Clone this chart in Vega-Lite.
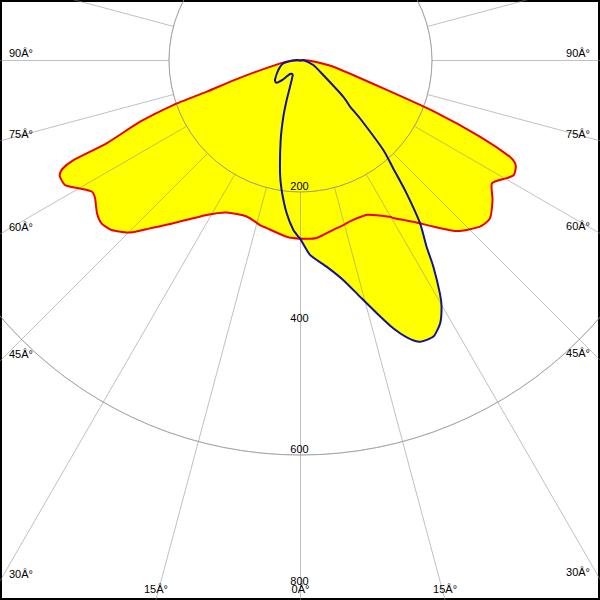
{
  "$schema": "https://vega.github.io/schema/vega-lite/v6.json",
  "width": 600,
  "height": 600,
  "padding": 0,
  "autosize": "none",
  "background": "white",
  "config": {
    "view": {"stroke": "#000000", "strokeWidth": 4},
    "text": {"font": "Liberation Sans", "fontSize": 11, "color": "#000000"}
  },
  "datasets": {
    "c0": [
      {"a": -90, "cd": 12}, {"a": -82, "cd": 31}, {"a": -74, "cd": 96}, {"a": -71.6, "cd": 150},
      {"a": -70.7, "cd": 205}, {"a": -69.1, "cd": 261}, {"a": -66.9, "cd": 320}, {"a": -66.3, "cd": 377},
      {"a": -65.5, "cd": 398}, {"a": -64.4, "cd": 406}, {"a": -62.1, "cd": 405}, {"a": -59.9, "cd": 388},
      {"a": -57.9, "cd": 375}, {"a": -56.2, "cd": 376}, {"a": -53.1, "cd": 387}, {"a": -50.7, "cd": 391},
      {"a": -48.1, "cd": 386}, {"a": -44.7, "cd": 368}, {"a": -41.9, "cd": 343}, {"a": -38.0, "cd": 314},
      {"a": -31.3, "cd": 275}, {"a": -25.9, "cd": 257}, {"a": -19.0, "cd": 251}, {"a": -13.7, "cd": 258},
      {"a": -11.4, "cd": 260}, {"a": -4.5, "cd": 269}, {"a": 0, "cd": 271}, {"a": 5.2, "cd": 271},
      {"a": 11.1, "cd": 262}, {"a": 14.4, "cd": 259}, {"a": 17.1, "cd": 256}, {"a": 23.5, "cd": 256},
      {"a": 29.8, "cd": 274}, {"a": 30.5, "cd": 278}, {"a": 34.9, "cd": 299}, {"a": 38.6, "cd": 323},
      {"a": 41.4, "cd": 344}, {"a": 43.1, "cd": 355}, {"a": 47.2, "cd": 372}, {"a": 50.2, "cd": 375},
      {"a": 54.0, "cd": 361}, {"a": 57.3, "cd": 346}, {"a": 60.3, "cd": 361}, {"a": 61.7, "cd": 368},
      {"a": 63.4, "cd": 366}, {"a": 64.4, "cd": 362}, {"a": 65.3, "cd": 351}, {"a": 67.0, "cd": 297},
      {"a": 69.1, "cd": 217}, {"a": 71.4, "cd": 133}, {"a": 79.3, "cd": 51}, {"a": 90, "cd": 12},
      {"a": 180, "cd": 0}
    ],
    "c90": [
      {"a": -97, "cd": 6}, {"a": -80.8, "cd": 26.5}, {"a": -66.8, "cd": 36.7}, {"a": -52.6, "cd": 48.8},
      {"a": -47, "cd": 49.5}, {"a": -42.5, "cd": 38.8}, {"a": -37.9, "cd": 26}, {"a": -28.3, "cd": 25},
      {"a": -21.8, "cd": 43}, {"a": -19.3, "cd": 63.6}, {"a": -17.0, "cd": 89}, {"a": -14.0, "cd": 124.6},
      {"a": -10.3, "cd": 174}, {"a": -8.3, "cd": 199}, {"a": -5.2, "cd": 233}, {"a": -2.4, "cd": 258},
      {"a": 0, "cd": 272}, {"a": 2.8, "cd": 296}, {"a": 7.2, "cd": 316}, {"a": 11.0, "cd": 340},
      {"a": 14.1, "cd": 370}, {"a": 16.8, "cd": 401.5}, {"a": 19.1, "cd": 431}, {"a": 21.0, "cd": 451},
      {"a": 23.0, "cd": 464.7}, {"a": 25.7, "cd": 466}, {"a": 28.0, "cd": 452.5}, {"a": 29.8, "cd": 431.6},
      {"a": 30.9, "cd": 412.8}, {"a": 32.8, "cd": 373}, {"a": 34.1, "cd": 342}, {"a": 36.3, "cd": 307},
      {"a": 38.6, "cd": 258.6}, {"a": 40.7, "cd": 216}, {"a": 42.8, "cd": 185}, {"a": 45.8, "cd": 126},
      {"a": 47, "cd": 103}, {"a": 49.8, "cd": 85}, {"a": 57.5, "cd": 41}, {"a": 70.6, "cd": 20.6},
      {"a": 100, "cd": 4.3}, {"a": 180, "cd": 0}
    ],
    "rings": [{"r": 200, "t": "200"}, {"r": 400, "t": "400"}, {"r": 600, "t": "600"}, {"r": 800, "t": "800"}],
    "spokes": [
      {"a": 0}, {"a": 15}, {"a": 30}, {"a": 45}, {"a": 60}, {"a": 75}, {"a": 90}, {"a": 105},
      {"a": 120}, {"a": 135}, {"a": 150}, {"a": 165}, {"a": 180}, {"a": 195}, {"a": 210}, {"a": 225},
      {"a": 240}, {"a": 255}, {"a": 270}, {"a": 285}, {"a": 300}, {"a": 315}, {"a": 330}, {"a": 345}
    ],
    "alab": [
      {"t": "90Â°", "a": -90, "side": "L"}, {"t": "75Â°", "a": -75, "side": "L"}, {"t": "60Â°", "a": -60, "side": "L"},
      {"t": "45Â°", "a": -45, "side": "L"}, {"t": "30Â°", "a": -30, "side": "L"},
      {"t": "90Â°", "a": 90, "side": "R"}, {"t": "75Â°", "a": 75, "side": "R"}, {"t": "60Â°", "a": 60, "side": "R"},
      {"t": "45Â°", "a": 45, "side": "R"}, {"t": "30Â°", "a": 30, "side": "R"},
      {"t": "15Â°", "a": -15, "side": "B"}, {"t": "0Â°", "a": 0, "side": "B"}, {"t": "15Â°", "a": 15, "side": "B"}
    ]
  },
  "layer": [
    {
      "data": {"name": "c0"},
      "transform": [
        {"calculate": "datum.cd*sin(datum.a*PI/180)", "as": "px"},
        {"calculate": "-datum.cd*cos(datum.a*PI/180)", "as": "py"}
      ],
      "mark": {"type": "line", "interpolate": "cardinal-closed", "tension": 0.4, "fill": "#ffff00", "stroke": "#ffff00", "strokeWidth": 0.5, "clip": true},
      "encoding": {
        "x": {"field": "px", "type": "quantitative", "scale": {"domain": [-457, 455.5], "zero": false, "nice": false}, "axis": null},
        "y": {"field": "py", "type": "quantitative", "scale": {"domain": [-820.5, 92], "zero": false, "nice": false}, "axis": null},
        "order": {"field": "a", "type": "quantitative"}
      }
    },
    {
      "data": {"name": "c90"},
      "transform": [
        {"calculate": "datum.cd*sin(datum.a*PI/180)", "as": "px"},
        {"calculate": "-datum.cd*cos(datum.a*PI/180)", "as": "py"}
      ],
      "mark": {"type": "line", "interpolate": "cardinal-closed", "tension": 0.4, "fill": "#ffff00", "stroke": "#ffff00", "strokeWidth": 0.5, "clip": true},
      "encoding": {
        "x": {"field": "px", "type": "quantitative", "scale": {"domain": [-457, 455.5], "zero": false, "nice": false}, "axis": null},
        "y": {"field": "py", "type": "quantitative", "scale": {"domain": [-820.5, 92], "zero": false, "nice": false}, "axis": null},
        "order": {"field": "a", "type": "quantitative"}
      }
    },
    {
      "data": {"name": "rings"},
      "mark": {"type": "arc", "theta": 0, "theta2": 6.2832, "filled": false, "stroke": "#8c8c8c", "strokeOpacity": 0.55, "strokeWidth": 1, "clip": true},
      "encoding": {
        "x": {"datum": 0, "type": "quantitative", "scale": {"domain": [-457, 455.5], "zero": false, "nice": false}, "axis": null},
        "y": {"datum": 0, "type": "quantitative", "scale": {"domain": [-820.5, 92], "zero": false, "nice": false}, "axis": null},
        "radius": {"field": "r", "type": "quantitative", "scale": {"type": "linear", "zero": true, "domain": [0, 912.5], "range": [0, 600]}}
      }
    },
    {
      "data": {"name": "spokes"},
      "transform": [
        {"calculate": "200*sin(datum.a*PI/180)", "as": "px"},
        {"calculate": "-200*cos(datum.a*PI/180)", "as": "py"},
        {"calculate": "1400*sin(datum.a*PI/180)", "as": "px2"},
        {"calculate": "-1400*cos(datum.a*PI/180)", "as": "py2"}
      ],
      "mark": {"type": "rule", "stroke": "#8c8c8c", "strokeOpacity": 0.55, "strokeWidth": 1, "clip": true},
      "encoding": {
        "x": {"field": "px", "type": "quantitative", "scale": {"domain": [-457, 455.5], "zero": false, "nice": false}, "axis": null},
        "y": {"field": "py", "type": "quantitative", "scale": {"domain": [-820.5, 92], "zero": false, "nice": false}, "axis": null},
        "x2": {"field": "px2"},
        "y2": {"field": "py2"}
      }
    },
    {
      "data": {"name": "c0"},
      "transform": [
        {"calculate": "datum.cd*sin(datum.a*PI/180)", "as": "px"},
        {"calculate": "-datum.cd*cos(datum.a*PI/180)", "as": "py"}
      ],
      "mark": {"type": "line", "interpolate": "cardinal-closed", "tension": 0.4, "stroke": "#ee0000", "strokeWidth": 2, "clip": true},
      "encoding": {
        "x": {"field": "px", "type": "quantitative", "scale": {"domain": [-457, 455.5], "zero": false, "nice": false}, "axis": null},
        "y": {"field": "py", "type": "quantitative", "scale": {"domain": [-820.5, 92], "zero": false, "nice": false}, "axis": null},
        "order": {"field": "a", "type": "quantitative"}
      }
    },
    {
      "data": {"name": "c90"},
      "transform": [
        {"calculate": "datum.cd*sin(datum.a*PI/180)", "as": "px"},
        {"calculate": "-datum.cd*cos(datum.a*PI/180)", "as": "py"}
      ],
      "mark": {"type": "line", "interpolate": "cardinal-closed", "tension": 0.4, "stroke": "#12129e", "strokeWidth": 2, "clip": true},
      "encoding": {
        "x": {"field": "px", "type": "quantitative", "scale": {"domain": [-457, 455.5], "zero": false, "nice": false}, "axis": null},
        "y": {"field": "py", "type": "quantitative", "scale": {"domain": [-820.5, 92], "zero": false, "nice": false}, "axis": null},
        "order": {"field": "a", "type": "quantitative"}
      }
    },
    {
      "data": {"name": "rings"},
      "transform": [{"calculate": "-datum.r", "as": "py"}],
      "mark": {"type": "text", "align": "center", "baseline": "alphabetic", "dx": -1, "dy": -2},
      "encoding": {
        "x": {"datum": 0, "type": "quantitative", "scale": {"domain": [-457, 455.5], "zero": false, "nice": false}, "axis": null},
        "y": {"field": "py", "type": "quantitative", "scale": {"domain": [-820.5, 92], "zero": false, "nice": false}, "axis": null},
        "text": {"field": "t"}
      }
    },
    {
      "data": {"name": "alab"},
      "transform": [
        {"filter": "datum.side == 'L'"},
        {"calculate": "-457", "as": "px"},
        {"calculate": "-457*cos(datum.a*PI/180)/abs(sin(datum.a*PI/180))", "as": "py"}
      ],
      "mark": {"type": "text", "align": "left", "baseline": "alphabetic", "dx": 9, "dy": -3},
      "encoding": {
        "x": {"field": "px", "type": "quantitative", "scale": {"domain": [-457, 455.5], "zero": false, "nice": false}, "axis": null},
        "y": {"field": "py", "type": "quantitative", "scale": {"domain": [-820.5, 92], "zero": false, "nice": false}, "axis": null},
        "text": {"field": "t"}
      }
    },
    {
      "data": {"name": "alab"},
      "transform": [
        {"filter": "datum.side == 'R'"},
        {"calculate": "455.5", "as": "px"},
        {"calculate": "-455.5*cos(datum.a*PI/180)/abs(sin(datum.a*PI/180))", "as": "py"}
      ],
      "mark": {"type": "text", "align": "right", "baseline": "alphabetic", "dx": -10, "dy": -3},
      "encoding": {
        "x": {"field": "px", "type": "quantitative", "scale": {"domain": [-457, 455.5], "zero": false, "nice": false}, "axis": null},
        "y": {"field": "py", "type": "quantitative", "scale": {"domain": [-820.5, 92], "zero": false, "nice": false}, "axis": null},
        "text": {"field": "t"}
      }
    },
    {
      "data": {"name": "alab"},
      "transform": [
        {"filter": "datum.side == 'B'"},
        {"calculate": "820.5*tan(datum.a*PI/180)", "as": "px"},
        {"calculate": "-820.5", "as": "py"}
      ],
      "mark": {"type": "text", "align": "center", "baseline": "alphabetic", "dy": -7},
      "encoding": {
        "x": {"field": "px", "type": "quantitative", "scale": {"domain": [-457, 455.5], "zero": false, "nice": false}, "axis": null},
        "y": {"field": "py", "type": "quantitative", "scale": {"domain": [-820.5, 92], "zero": false, "nice": false}, "axis": null},
        "text": {"field": "t"}
      }
    }
  ]
}
